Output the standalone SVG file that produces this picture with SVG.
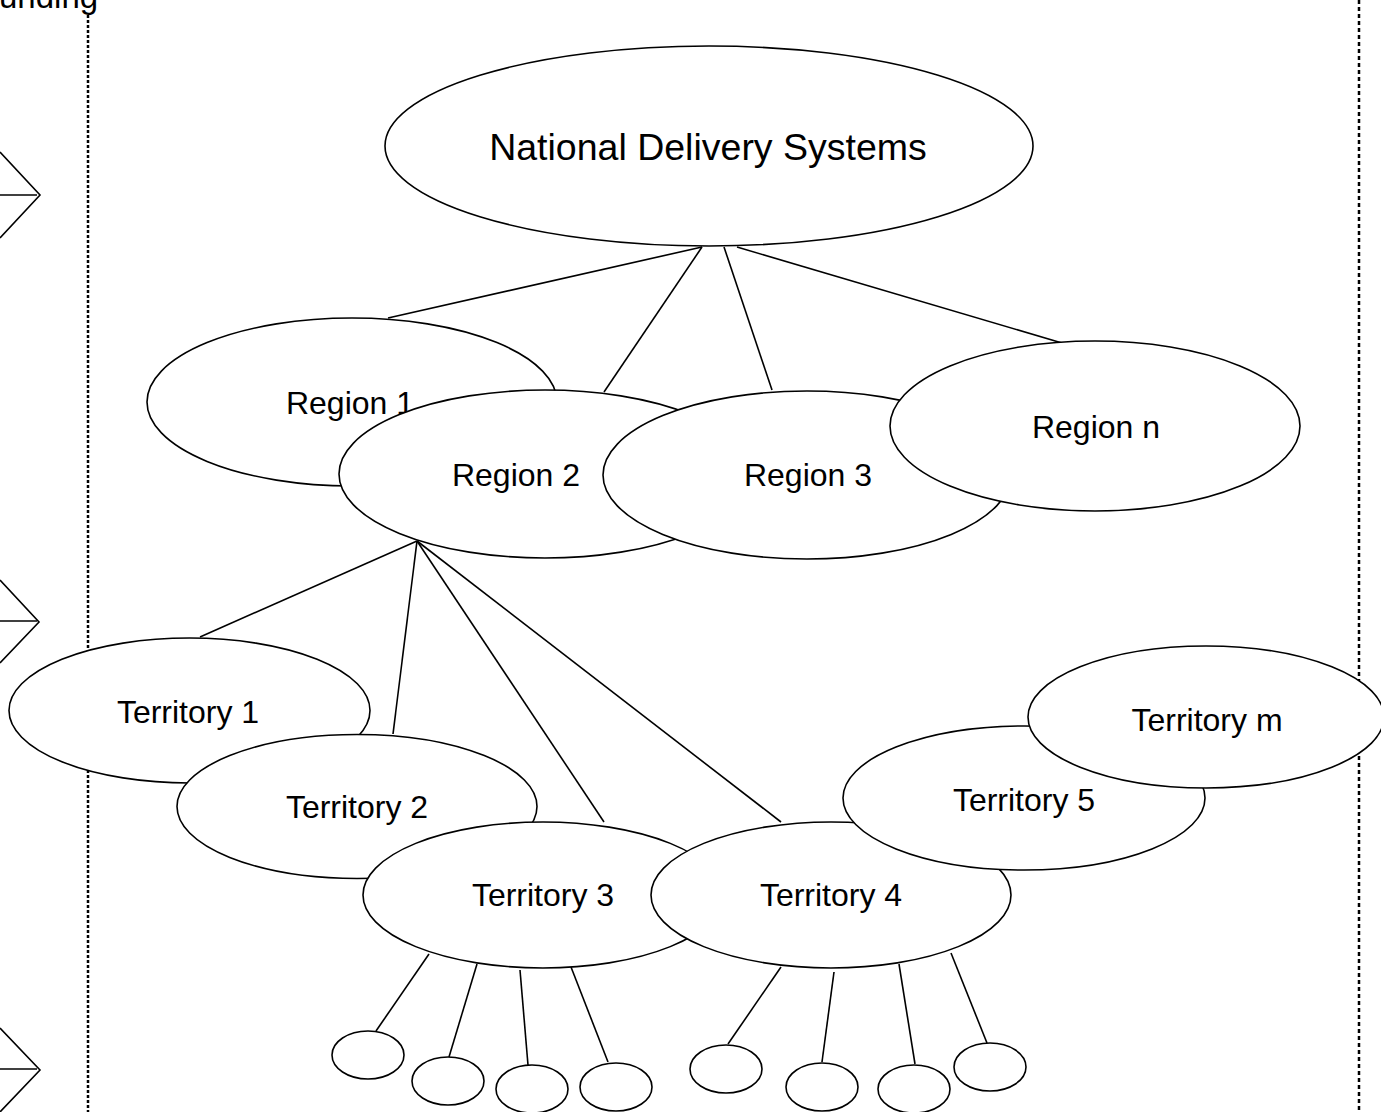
<svg xmlns="http://www.w3.org/2000/svg" width="1381" height="1112" viewBox="0 0 1381 1112">
<style>
.n{fill:#fff;stroke:#000;stroke-width:1.6}
.c{stroke:#000;stroke-width:1.6;fill:none}
.t{font-family:"Liberation Sans",Arial,sans-serif;font-size:32px;text-anchor:middle;fill:#000}
.big{font-size:37.5px}
.dl{stroke:#000;stroke-width:2.5;fill:none}
</style>
<rect width="1381" height="1112" fill="#fff"/>
<g id="frame">
<line class="dl" x1="88" y1="15" x2="88" y2="1112" stroke-dasharray="3,2"/>
<line class="dl" x1="1359" y1="0" x2="1359" y2="1112" stroke-dasharray="4,3"/>
<text class="t" x="-1" y="8" style="text-anchor:start;font-size:33px">unding</text>
<polyline class="c" points="0,152 40,195 0,238"/>
<line class="c" x1="0" y1="195" x2="37" y2="195" stroke-width="1"/>
<polyline class="c" points="0,580 39,622 0,663"/>
<line class="c" x1="0" y1="621" x2="37" y2="621" stroke-width="1"/>
<polyline class="c" points="0,1028 40,1070 0,1112"/>
<line class="c" x1="0" y1="1069" x2="37" y2="1069" stroke-width="1"/>
</g>
<g id="connectors">
<line class="c" x1="702" y1="247" x2="388" y2="318"/>
<line class="c" x1="702" y1="247" x2="604" y2="392"/>
<line class="c" x1="724" y1="247" x2="772" y2="390"/>
<line class="c" x1="737" y1="247" x2="1062" y2="343"/>
<line class="c" x1="417" y1="541" x2="200" y2="637"/>
<line class="c" x1="417" y1="541" x2="393" y2="734"/>
<line class="c" x1="417" y1="541" x2="604" y2="822"/>
<line class="c" x1="417" y1="541" x2="781" y2="822"/>
<line class="c" x1="429" y1="954" x2="376" y2="1031"/>
<line class="c" x1="477" y1="964" x2="449" y2="1057"/>
<line class="c" x1="520" y1="970" x2="528" y2="1065"/>
<line class="c" x1="571" y1="967" x2="608" y2="1062"/>
<line class="c" x1="781" y1="967" x2="728" y2="1044"/>
<line class="c" x1="834" y1="972" x2="822" y2="1062"/>
<line class="c" x1="899" y1="964" x2="915" y2="1064"/>
<line class="c" x1="951" y1="953" x2="987" y2="1043"/>
</g>
<g id="nds"><ellipse class="n" cx="709" cy="146" rx="324" ry="100"/><text class="t big" x="708" y="160">National Delivery Systems</text></g>
<g id="region1"><ellipse class="n" cx="352" cy="402" rx="205" ry="84"/><text class="t" x="350" y="414">Region 1</text></g>
<g id="region2"><ellipse class="n" cx="545" cy="474" rx="206" ry="84"/><text class="t" x="516" y="486">Region 2</text></g>
<g id="region3"><ellipse class="n" cx="807" cy="475" rx="204" ry="84"/><text class="t" x="808" y="486">Region 3</text></g>
<g id="regionn"><ellipse class="n" cx="1095" cy="426" rx="205" ry="85"/><text class="t" x="1096" y="438">Region n</text></g>
<g id="territory1"><ellipse class="n" cx="189.5" cy="710.5" rx="180.5" ry="72.5"/><text class="t" x="188" y="723">Territory 1</text></g>
<g id="territory2"><ellipse class="n" cx="357" cy="806.5" rx="180" ry="72"/><text class="t" x="357" y="818">Territory 2</text></g>
<g id="territory3"><ellipse class="n" cx="543" cy="895" rx="180" ry="73"/><text class="t" x="543" y="906">Territory 3</text></g>
<g id="territory4"><ellipse class="n" cx="831" cy="895" rx="180" ry="73"/><text class="t" x="831" y="906">Territory 4</text></g>
<g id="territory5"><ellipse class="n" cx="1024" cy="798" rx="181" ry="72"/><text class="t" x="1024" y="811">Territory 5</text></g>
<g id="territorym"><ellipse class="n" cx="1206" cy="717" rx="178" ry="71"/><text class="t" x="1207" y="731">Territory m</text></g>
<g id="leaf1"><ellipse class="n" cx="368" cy="1055" rx="36" ry="24"/></g>
<g id="leaf2"><ellipse class="n" cx="448" cy="1081" rx="36" ry="24"/></g>
<g id="leaf3"><ellipse class="n" cx="532" cy="1089" rx="36" ry="24"/></g>
<g id="leaf4"><ellipse class="n" cx="616" cy="1087" rx="36" ry="24"/></g>
<g id="leaf5"><ellipse class="n" cx="726" cy="1069" rx="36" ry="24"/></g>
<g id="leaf6"><ellipse class="n" cx="822" cy="1087" rx="36" ry="24"/></g>
<g id="leaf7"><ellipse class="n" cx="914" cy="1089" rx="36" ry="24"/></g>
<g id="leaf8"><ellipse class="n" cx="990" cy="1067" rx="36" ry="24"/></g>
</svg>
